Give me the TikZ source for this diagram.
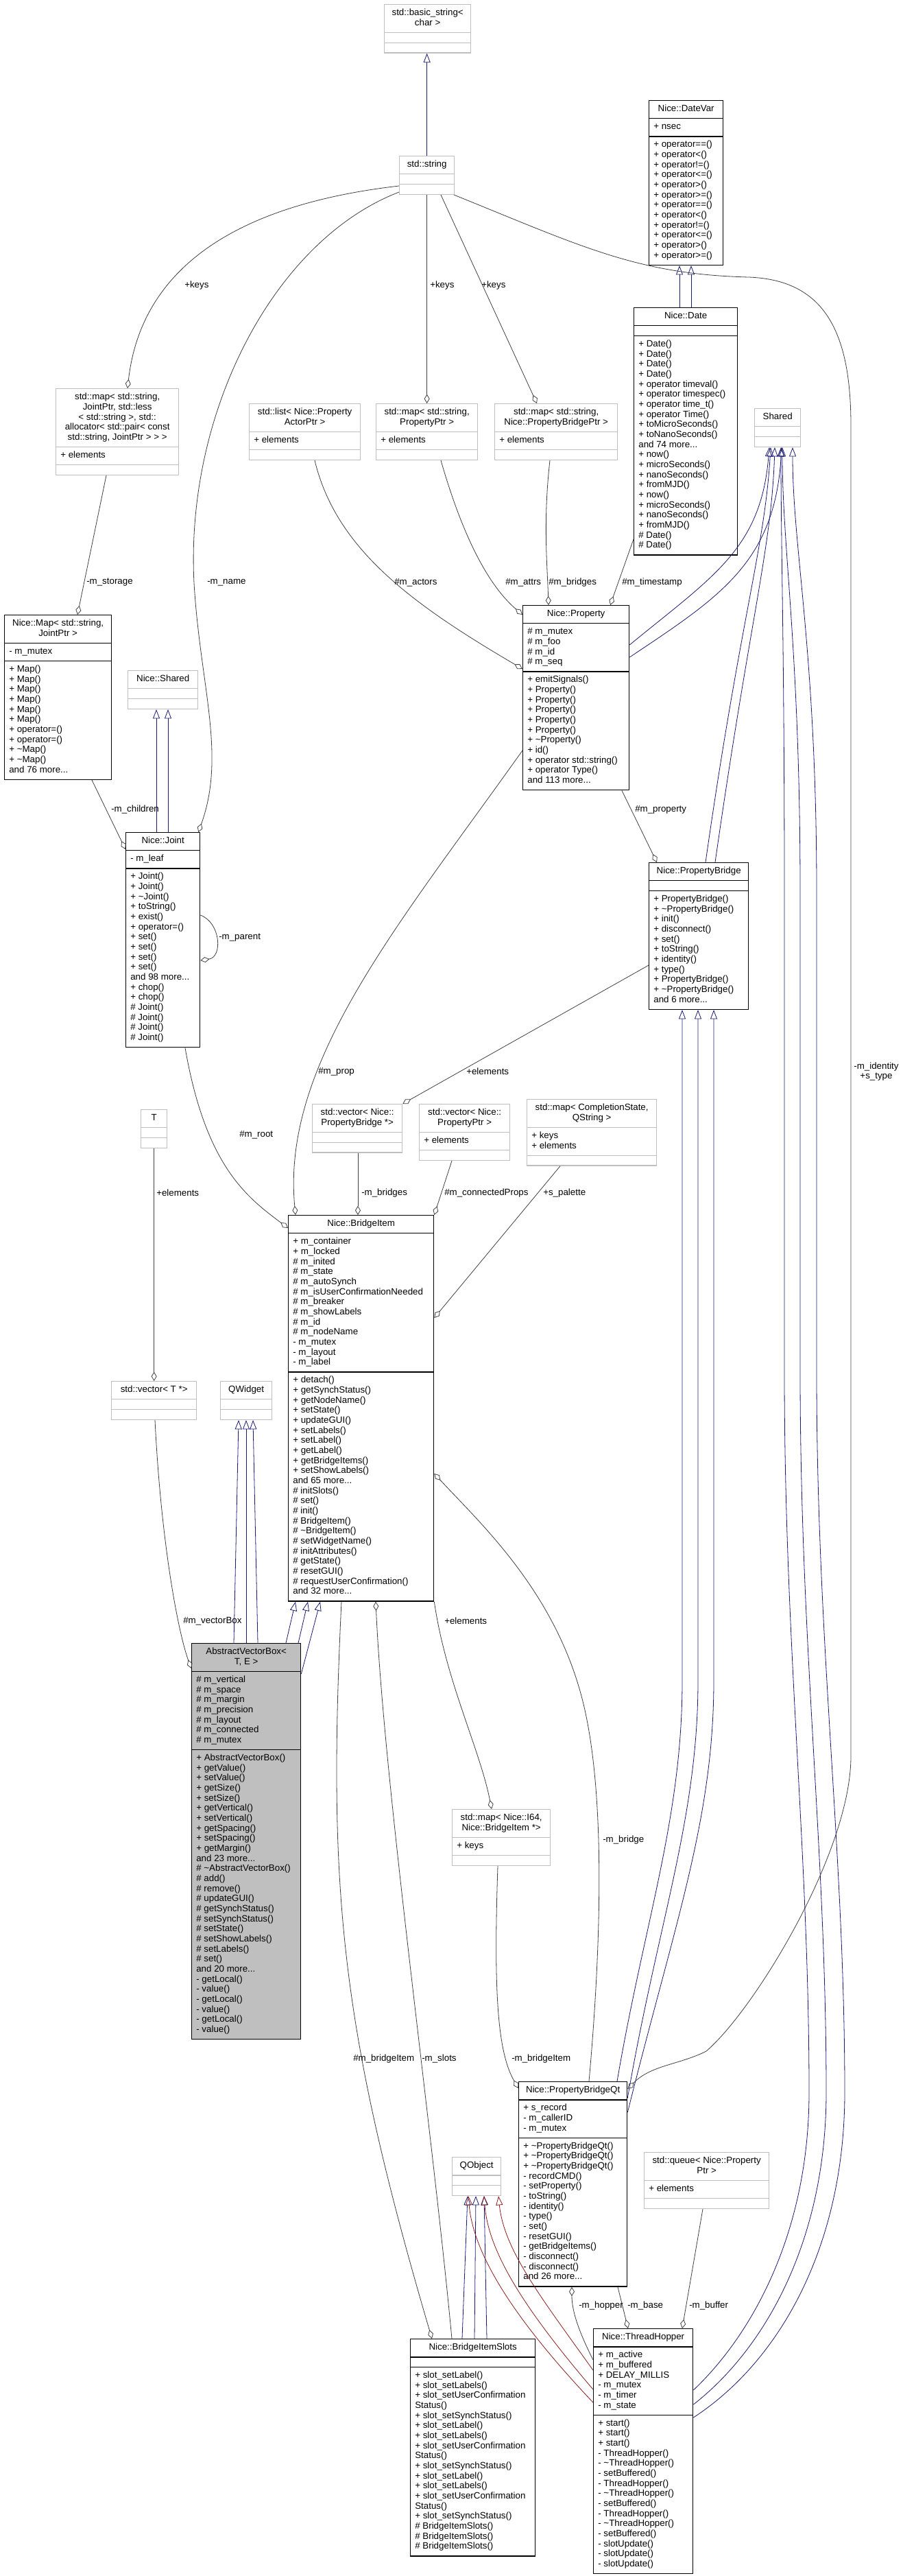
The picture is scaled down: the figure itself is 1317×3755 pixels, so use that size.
\documentclass[tikz,border=0pt]{standalone}
\usepackage{fontspec}
\setmainfont{Liberation Sans}
\usepackage{xcolor}
\usetikzlibrary{shapes.multipart, arrows.meta, calc}

\definecolor{edgegray}{HTML}{404040}
\definecolor{inhblue}{HTML}{191970}
\definecolor{privred}{HTML}{8B1A1A}
\definecolor{boxgray}{HTML}{BFBFBF}

\tikzset{
  classbox/.style={rectangle split, rectangle split parts=3, draw=black, line width=1pt,
    inner xsep=5pt, inner ysep=3.8pt, anchor=north west, font=\fontsize{10}{11}\selectfont},
  extbox/.style={classbox, draw=boxgray},
  curbox/.style={classbox, fill=boxgray},
  member/.style={draw=edgegray, line width=0.6pt, -{Diamond[open, length=10pt, width=6pt]}},
  inherit/.style={draw=inhblue, line width=0.6pt, -{Triangle[open, length=10pt, width=7.5pt]}},
  privinherit/.style={inherit, draw=privred},
  edgelabel/.style={font=\fontsize{10}{11}\selectfont, inner sep=0pt, anchor=west},
}

\begin{document}
\fontsize{10}{11}\selectfont
\begin{tikzpicture}[x=0.75pt, y=-0.75pt]
    \useasboundingbox (0,0) rectangle (1317,3755);
    \def\umlclass#1#2#3#4#5#6#7{%
      \node [#1] (#2) at (#3) {\fontsize{10}{11}\selectfont\makebox[\dimexpr#4pt*3/4-10pt\relax][c]{\begin{tabular}{@{}c@{}}#5\end{tabular}}%
        \nodepart{second}\fontsize{10}{11}\selectfont\makebox[\dimexpr#4pt*3/4-10pt\relax][l]{\begin{tabular}{@{}l@{}}#6\end{tabular}}%
        \nodepart{third}\fontsize{10}{11}\selectfont\makebox[\dimexpr#4pt*3/4-10pt\relax][l]{\begin{tabular}{@{}l@{}}#7\end{tabular}}};}

    \umlclass{extbox}{bstr}{560,6}{126}{std::basic\_string<\\char >}{}{}
    \umlclass{extbox}{str}{582,227}{80}{std::string}{}{}
    \umlclass{classbox}{datevar}{946,146}{108}{Nice::DateVar}{+ nsec}{+ operator==()\\+ operator<()\\+ operator!=()\\+ operator<=()\\+ operator>()\\+ operator>=()\\+ operator==()\\+ operator<()\\+ operator!=()\\+ operator<=()\\+ operator>()\\+ operator>=()}
    \umlclass{classbox}{date}{924,448}{151}{Nice::Date}{}{+ Date()\\+ Date()\\+ Date()\\+ Date()\\+ operator timeval()\\+ operator timespec()\\+ operator time\_t()\\+ operator Time()\\+ toMicroSeconds()\\+ toNanoSeconds()\\and 74 more...\\+ now()\\+ microSeconds()\\+ nanoSeconds()\\+ fromMJD()\\+ now()\\+ microSeconds()\\+ nanoSeconds()\\+ fromMJD()\\\# Date()\\\# Date()}
    \umlclass{extbox}{mapjoint}{81,566}{179}{std::map< std::string,\\JointPtr, std::less\\< std::string >, std::\\allocator< std::pair< const\\std::string, JointPtr > > >}{+ elements}{}
    \umlclass{extbox}{listactor}{363,588}{162}{std::list< Nice::Property\\ActorPtr >}{+ elements}{}
    \umlclass{extbox}{mapprop}{548,588}{148}{std::map< std::string,\\PropertyPtr >}{+ elements}{}
    \umlclass{extbox}{mapbridge}{721,588}{179}{std::map< std::string,\\Nice::PropertyBridgePtr >}{+ elements}{}
    \umlclass{extbox}{shared}{1100,595}{67}{Shared}{}{}
    \umlclass{classbox}{map}{6,896}{156}{Nice::Map< std::string,\\JointPtr >}{- m\_mutex}{+ Map()\\+ Map()\\+ Map()\\+ Map()\\+ Map()\\+ Map()\\+ operator=()\\+ operator=()\\+ \textasciitilde Map()\\+ \textasciitilde Map()\\and 76 more...}
    \umlclass{extbox}{nshared}{186,977}{102}{Nice::Shared}{}{}
    \umlclass{classbox}{joint}{183,1213}{108}{Nice::Joint}{- m\_leaf}{+ Joint()\\+ Joint()\\+ \textasciitilde Joint()\\+ toString()\\+ exist()\\+ operator=()\\+ set()\\+ set()\\+ set()\\+ set()\\and 98 more...\\+ chop()\\+ chop()\\\# Joint()\\\# Joint()\\\# Joint()\\\# Joint()}
    \umlclass{classbox}{prop}{762,882}{155}{Nice::Property}{\# m\_mutex\\\# m\_foo\\\# m\_id\\\# m\_seq}{+ emitSignals()\\+ Property()\\+ Property()\\+ Property()\\+ Property()\\+ Property()\\+ \textasciitilde Property()\\+ id()\\+ operator std::string()\\+ operator Type()\\and 113 more...}
    \umlclass{classbox}{pbridge}{946,1257}{145}{Nice::PropertyBridge}{}{+ PropertyBridge()\\+ \textasciitilde PropertyBridge()\\+ init()\\+ disconnect()\\+ set()\\+ toString()\\+ identity()\\+ type()\\+ PropertyBridge()\\+ \textasciitilde PropertyBridge()\\and 6 more...}
    \umlclass{extbox}{tbox}{205,1617}{38}{T}{}{}
    \umlclass{extbox}{vecpb}{455,1609}{131}{std::vector< Nice::\\PropertyBridge *>}{}{}
    \umlclass{extbox}{vecpp}{611,1609}{132}{std::vector< Nice::\\PropertyPtr >}{+ elements}{}
    \umlclass{extbox}{mapcs}{768,1602}{189}{std::map< CompletionState,\\QString >}{+ keys\\+ elements}{}
    \umlclass{classbox}{bitem}{420,1771}{212}{Nice::BridgeItem}{+ m\_container\\+ m\_locked\\\# m\_inited\\\# m\_state\\\# m\_autoSynch\\\# m\_isUserConfirmationNeeded\\\# m\_breaker\\\# m\_showLabels\\\# m\_id\\\# m\_nodeName\\- m\_mutex\\- m\_layout\\- m\_label}{+ detach()\\+ getSynchStatus()\\+ getNodeName()\\+ setState()\\+ updateGUI()\\+ setLabels()\\+ setLabel()\\+ getLabel()\\+ getBridgeItems()\\+ setShowLabels()\\and 65 more...\\\# initSlots()\\\# set()\\\# init()\\\# BridgeItem()\\\# \textasciitilde BridgeItem()\\\# setWidgetName()\\\# initAttributes()\\\# getState()\\\# resetGUI()\\\# requestUserConfirmation()\\and 32 more...}
    \umlclass{extbox}{vect}{162,2013}{124}{std::vector< T *>}{}{}
    \umlclass{extbox}{qwidget}{321,2013}{75}{QWidget}{}{}
    \umlclass{curbox}{avb}{279,2395}{159}{AbstractVectorBox<\\T, E >}{\# m\_vertical\\\# m\_space\\\# m\_margin\\\# m\_precision\\\# m\_layout\\\# m\_connected\\\# m\_mutex}{+ AbstractVectorBox()\\+ getValue()\\+ setValue()\\+ getSize()\\+ setSize()\\+ getVertical()\\+ setVertical()\\+ getSpacing()\\+ setSpacing()\\+ getMargin()\\and 23 more...\\\# \textasciitilde AbstractVectorBox()\\\# add()\\\# remove()\\\# updateGUI()\\\# getSynchStatus()\\\# setSynchStatus()\\\# setState()\\\# setShowLabels()\\\# setLabels()\\\# set()\\and 20 more...\\- getLocal()\\- value()\\- getLocal()\\- value()\\- getLocal()\\- value()}
    \umlclass{extbox}{mapi64}{659,2637}{143}{std::map< Nice::I64,\\Nice::BridgeItem *>}{+ keys}{}
    \umlclass{classbox}{pbqt}{756,3034}{158}{Nice::PropertyBridgeQt}{+ s\_record\\- m\_callerID\\- m\_mutex}{+ \textasciitilde PropertyBridgeQt()\\+ \textasciitilde PropertyBridgeQt()\\+ \textasciitilde PropertyBridgeQt()\\- recordCMD()\\- setProperty()\\- toString()\\- identity()\\- type()\\- set()\\- resetGUI()\\- getBridgeItems()\\- disconnect()\\- disconnect()\\and 26 more...}
    \umlclass{extbox}{qobject}{659,3144}{71}{QObject}{}{}
    \umlclass{extbox}{queue}{939,3137}{182}{std::queue< Nice::Property\\Ptr >}{+ elements}{}
    \umlclass{classbox}{slots}{598,3409}{182}{Nice::BridgeItemSlots}{}{+ slot\_setLabel()\\+ slot\_setLabels()\\+ slot\_setUserConfirmation\\Status()\\+ slot\_setSynchStatus()\\+ slot\_setLabel()\\+ slot\_setLabels()\\+ slot\_setUserConfirmation\\Status()\\+ slot\_setSynchStatus()\\+ slot\_setLabel()\\+ slot\_setLabels()\\+ slot\_setUserConfirmation\\Status()\\+ slot\_setSynchStatus()\\\# BridgeItemSlots()\\\# BridgeItemSlots()\\\# BridgeItemSlots()}
    \umlclass{classbox}{hopper}{865,3394}{145}{Nice::ThreadHopper}{+ m\_active\\+ m\_buffered\\+ DELAY\_MILLIS\\- m\_mutex\\- m\_timer\\- m\_state}{+ start()\\+ start()\\+ start()\\- ThreadHopper()\\- \textasciitilde ThreadHopper()\\- setBuffered()\\- ThreadHopper()\\- \textasciitilde ThreadHopper()\\- setBuffered()\\- ThreadHopper()\\- \textasciitilde ThreadHopper()\\- setBuffered()\\- slotUpdate()\\- slotUpdate()\\- slotUpdate()}

    % inheritance
    \draw [inherit] (str.north) -- (str.north |- bstr.south);
    \draw [inherit] ($(date.north west)+(67,0)$) -- ($(datevar.south west)+(45,0)$);
    \draw [inherit] ($(date.north west)+(84,0)$) -- ($(datevar.south west)+(62,0)$);
    \draw [inherit] ($(prop.north east)+(0,58)$) .. controls (1040,840) and (1110,800) .. ($(shared.south west)+(22,0)$);
    \draw [inherit] ($(prop.north east)+(0,76)$) .. controls (1050,870) and (1130,820) .. ($(shared.south west)+(40,0)$);
    \draw [inherit] ($(pbridge.north west)+(83,0)$) .. controls (1080,900) and (1115,800) .. ($(shared.south west)+(24,0)$);
    \draw [inherit] ($(pbridge.north west)+(97,0)$) .. controls (1094,900) and (1125,800) .. ($(shared.south west)+(30,0)$);
    \draw [inherit] ($(joint.north west)+(45,0)$) -- ($(nshared.south west)+(42,0)$);
    \draw [inherit] ($(joint.north west)+(62,0)$) -- ($(nshared.south west)+(59,0)$);
    \draw [inherit] ($(hopper.north east)+(0,90)$) .. controls (1100,3400) and (1180,3250) .. (1180,3050) .. controls (1180,2700) and (1144,2400) .. (1144,2000) -- (1144,1300) .. controls (1144,950) and (1139,800) .. ($(shared.south west)+(39,0)$);
    \draw [inherit] ($(hopper.north east)+(0,111)$) .. controls (1120,3420) and (1205,3260) .. (1205,3050) .. controls (1205,2700) and (1167,2400) .. (1167,2000) -- (1167,1300) .. controls (1167,950) and (1141,800) .. ($(shared.south west)+(41,0)$);
    \draw [inherit] ($(hopper.north east)+(0,130)$) .. controls (1140,3440) and (1232,3270) .. (1232,3050) .. controls (1232,2700) and (1191,2400) .. (1191,2000) -- (1191,1300) .. controls (1191,950) and (1156,800) .. ($(shared.south west)+(56,0)$);
    \draw [inherit] ($(pbqt.north west)+(144,0)$) .. controls (940,2800) and (995,2650) .. (995,2450) -- ($(pbridge.south west)+(49,0)$);
    \draw [inherit] ($(pbqt.north east)+(0,24)$) .. controls (960,2800) and (1018,2650) .. (1018,2450) -- ($(pbridge.south west)+(72,0)$);
    \draw [inherit] ($(pbqt.north east)+(0,45)$) .. controls (985,2800) and (1041,2650) .. (1041,2450) -- ($(pbridge.south west)+(95,0)$);
    \draw [inherit] ($(avb.north west)+(62,0)$) -- ($(qwidget.south west)+(27,0)$);
    \draw [inherit] ($(avb.north west)+(80,0)$) -- ($(qwidget.south west)+(38,0)$);
    \draw [inherit] ($(avb.north west)+(97,0)$) -- ($(qwidget.south west)+(48,0)$);
    \draw [inherit] ($(avb.north west)+(138,0)$) -- ($(bitem.south west)+(11,0)$);
    \draw [inherit] ($(avb.north west)+(156,0)$) -- ($(bitem.south west)+(29,0)$);
    \draw [inherit] ($(avb.north east)+(0,45)$) -- ($(bitem.south west)+(47,0)$);
    \draw [inherit] ($(slots.north west)+(76,0)$) -- ($(qobject.south west)+(23,0)$);
    \draw [inherit] ($(slots.north west)+(94,0)$) -- ($(qobject.south west)+(35,0)$);
    \draw [inherit] ($(slots.north west)+(112,0)$) -- ($(qobject.south west)+(47,0)$);
    \draw [privinherit] ($(hopper.north west)+(0,108)$) .. controls (740,3370) and (690,3280) .. ($(qobject.south west)+(24,0)$);
    \draw [privinherit] ($(hopper.north west)+(0,89)$) .. controls (760,3360) and (712,3280) .. ($(qobject.south west)+(47,0)$);
    \draw [privinherit] ($(hopper.north west)+(0,61)$) .. controls (790,3350) and (735,3280) .. ($(qobject.south west)+(68,0)$);

    % members
    \draw [member] ($(str.north west)+(0,44)$) .. controls (330,300) and (205,400) .. ($(mapjoint.north west)+(105,0)$);
    \draw [member] ($(str.north west)+(0,53)$) .. controls (400,350) and (270,600) .. (283,850) .. controls (292,1000) and (330,1100) .. ($(joint.north east)+(-3,0)$);
    \draw [member] (str.south) -- (mapprop.north);
    \draw [member] ($(str.south west)+(61,0)$) -- ($(mapbridge.north west)+(62,0)$);
    \draw [member] ($(str.north west)+(80,57)$) .. controls (850,360) and (930,400) .. (1092,404) .. controls (1200,408) and (1241,480) .. (1241,620) -- (1241,2560) .. controls (1241,2700) and (1100,2930) .. (1030,2990) .. controls (990,3010) and (950,3010) .. ($(pbqt.north east)+(0,11)$);
    \draw [member] ($(mapjoint.south west)+(74,0)$) -- ($(map.north west)+(107,0)$);
    \draw [member] ($(listactor.south west)+(96,0)$) .. controls (490,800) and (600,880) .. ($(prop.north west)+(0,93)$);
    \draw [member] ($(mapprop.south west)+(95,0)$) .. controls (680,800) and (720,860) .. ($(prop.north west)+(0,14)$);
    \draw [member] ($(mapbridge.south west)+(81,0)$) .. controls (792,760) and (798,820) .. ($(prop.north west)+(38,0)$);
    \draw [member] ($(date.north west)+(0,338)$) -- ($(prop.north west)+(128,0)$);
    \draw [member] ($(map.south west)+(128,0)$) -- ($(joint.north west)+(0,25)$);
    \draw [member] ($(joint.north east)+(0,121)$) .. controls (322,1345) and (325,1395) .. ($(joint.north east)+(0,187)$);
    \draw [member] ($(prop.south west)+(145,0)$) -- ($(pbridge.north west)+(12,0)$);
    \draw [member] ($(prop.north west)+(0,212)$) .. controls (580,1350) and (410,1550) .. ($(bitem.north west)+(11,0)$);
    \draw [member] ($(pbridge.north west)+(0,150)$) -- (vecpb.north east);
    \draw [member] ($(joint.south west)+(87,0)$) .. controls (300,1700) and (360,1745) .. ($(bitem.north west)+(0,19)$);
    \draw [member] ($(vecpb.south west)+(67,0)$) -- ($(bitem.north west)+(102,0)$);
    \draw [member] ($(vecpp.south west)+(48,0)$) -- (bitem.north east);
    \draw [member] ($(mapcs.south west)+(49,0)$) -- ($(bitem.north east)+(0,150)$);
    \draw [member] (tbox.south) -- (vect.north);
    \draw [member] ($(vect.south west)+(64,0)$) .. controls (235,2250) and (260,2380) .. ($(avb.north west)+(0,37)$);
    \draw [member] ($(bitem.south west)+(78,0)$) .. controls (478,2750) and (495,2950) .. ($(slots.north west)+(32,0)$);
    \draw [member] ($(slots.north west)+(61,0)$) .. controls (630,3100) and (560,2600) .. ($(bitem.south west)+(128,0)$);
    \draw [member] (bitem.south east) .. controls (650,2450) and (700,2550) .. ($(mapi64.north west)+(58,0)$);
    \draw [member] ($(pbqt.north west)+(103,0)$) .. controls (880,2800) and (880,2600) .. (850,2480) .. controls (810,2320) and (700,2220) .. ($(bitem.north east)+(0,377)$);
    \draw [member] ($(mapi64.south west)+(67,0)$) .. controls (720,2900) and (725,2990) .. ($(pbqt.north west)+(0,10)$);
    \draw [member] ($(hopper.north west)+(0,46)$) .. controls (845,3400) and (834,3370) .. ($(pbqt.south west)+(78,0)$);
    \draw [member] ($(pbqt.south west)+(145,0)$) -- ($(hopper.north west)+(51,0)$);
    \draw [member] ($(queue.south west)+(86,0)$) -- ($(hopper.north west)+(130,0)$);

    \node [edgelabel] (lkeysa) at (269,416) {+keys};
    \node [edgelabel] (lkeysb) at (627,416) {+keys};
    \node [edgelabel] (lkeysc) at (702,416) {+keys};
    \node [edgelabel] (lstorage) at (126,849) {-m\_storage};
    \node [edgelabel] (lname) at (302,849) {-m\_name};
    \node [edgelabel] (lactors) at (575,849) {\#m\_actors};
    \node [edgelabel] (lattrs) at (737,849) {\#m\_attrs};
    \node [edgelabel] (lbridges) at (800,849) {\#m\_bridges};
    \node [edgelabel] (ltimestamp) at (907,849) {\#m\_timestamp};
    \node [edgelabel] (lchildren) at (162,1180) {-m\_children};
    \node [edgelabel] (lproperty) at (926,1180) {\#m\_property};
    \node [edgelabel] (lparent) at (319,1367) {-m\_parent};
    \node [edgelabel] (lprop) at (464,1562) {\#m\_prop};
    \node [edgelabel] (lelementsa) at (680,1562) {+elements};
    \node [edgelabel, anchor=center, align=center] (lidentity) at (1278,1562) {-m\_identity\\+s\_type};
    \node [edgelabel] (lroot) at (349,1654) {\#m\_root};
    \node [edgelabel] (lbridgesb) at (527,1739) {-m\_bridges};
    \node [edgelabel] (lconnected) at (648,1739) {\#m\_connectedProps};
    \node [edgelabel] (lpalette) at (792,1739) {+s\_palette};
    \node [edgelabel] (lelementsb) at (228,1739) {+elements};
    \node [edgelabel] (lvectorbox) at (267,2363) {\#m\_vectorBox};
    \node [edgelabel] (lelementsc) at (648,2363) {+elements};
    \node [edgelabel] (lbridge) at (879,2682) {-m\_bridge};
    \node [edgelabel] (lbitema) at (515,3001) {\#m\_bridgeItem};
    \node [edgelabel] (lslots) at (615,3001) {-m\_slots};
    \node [edgelabel] (lbitemb) at (746,3001) {-m\_bridgeItem};
    \node [edgelabel] (lhopper) at (844,3361) {-m\_hopper};
    \node [edgelabel] (lbase) at (915,3361) {-m\_base};
    \node [edgelabel] (lbuffer) at (1005,3361) {-m\_buffer};
\end{tikzpicture}
\end{document}
